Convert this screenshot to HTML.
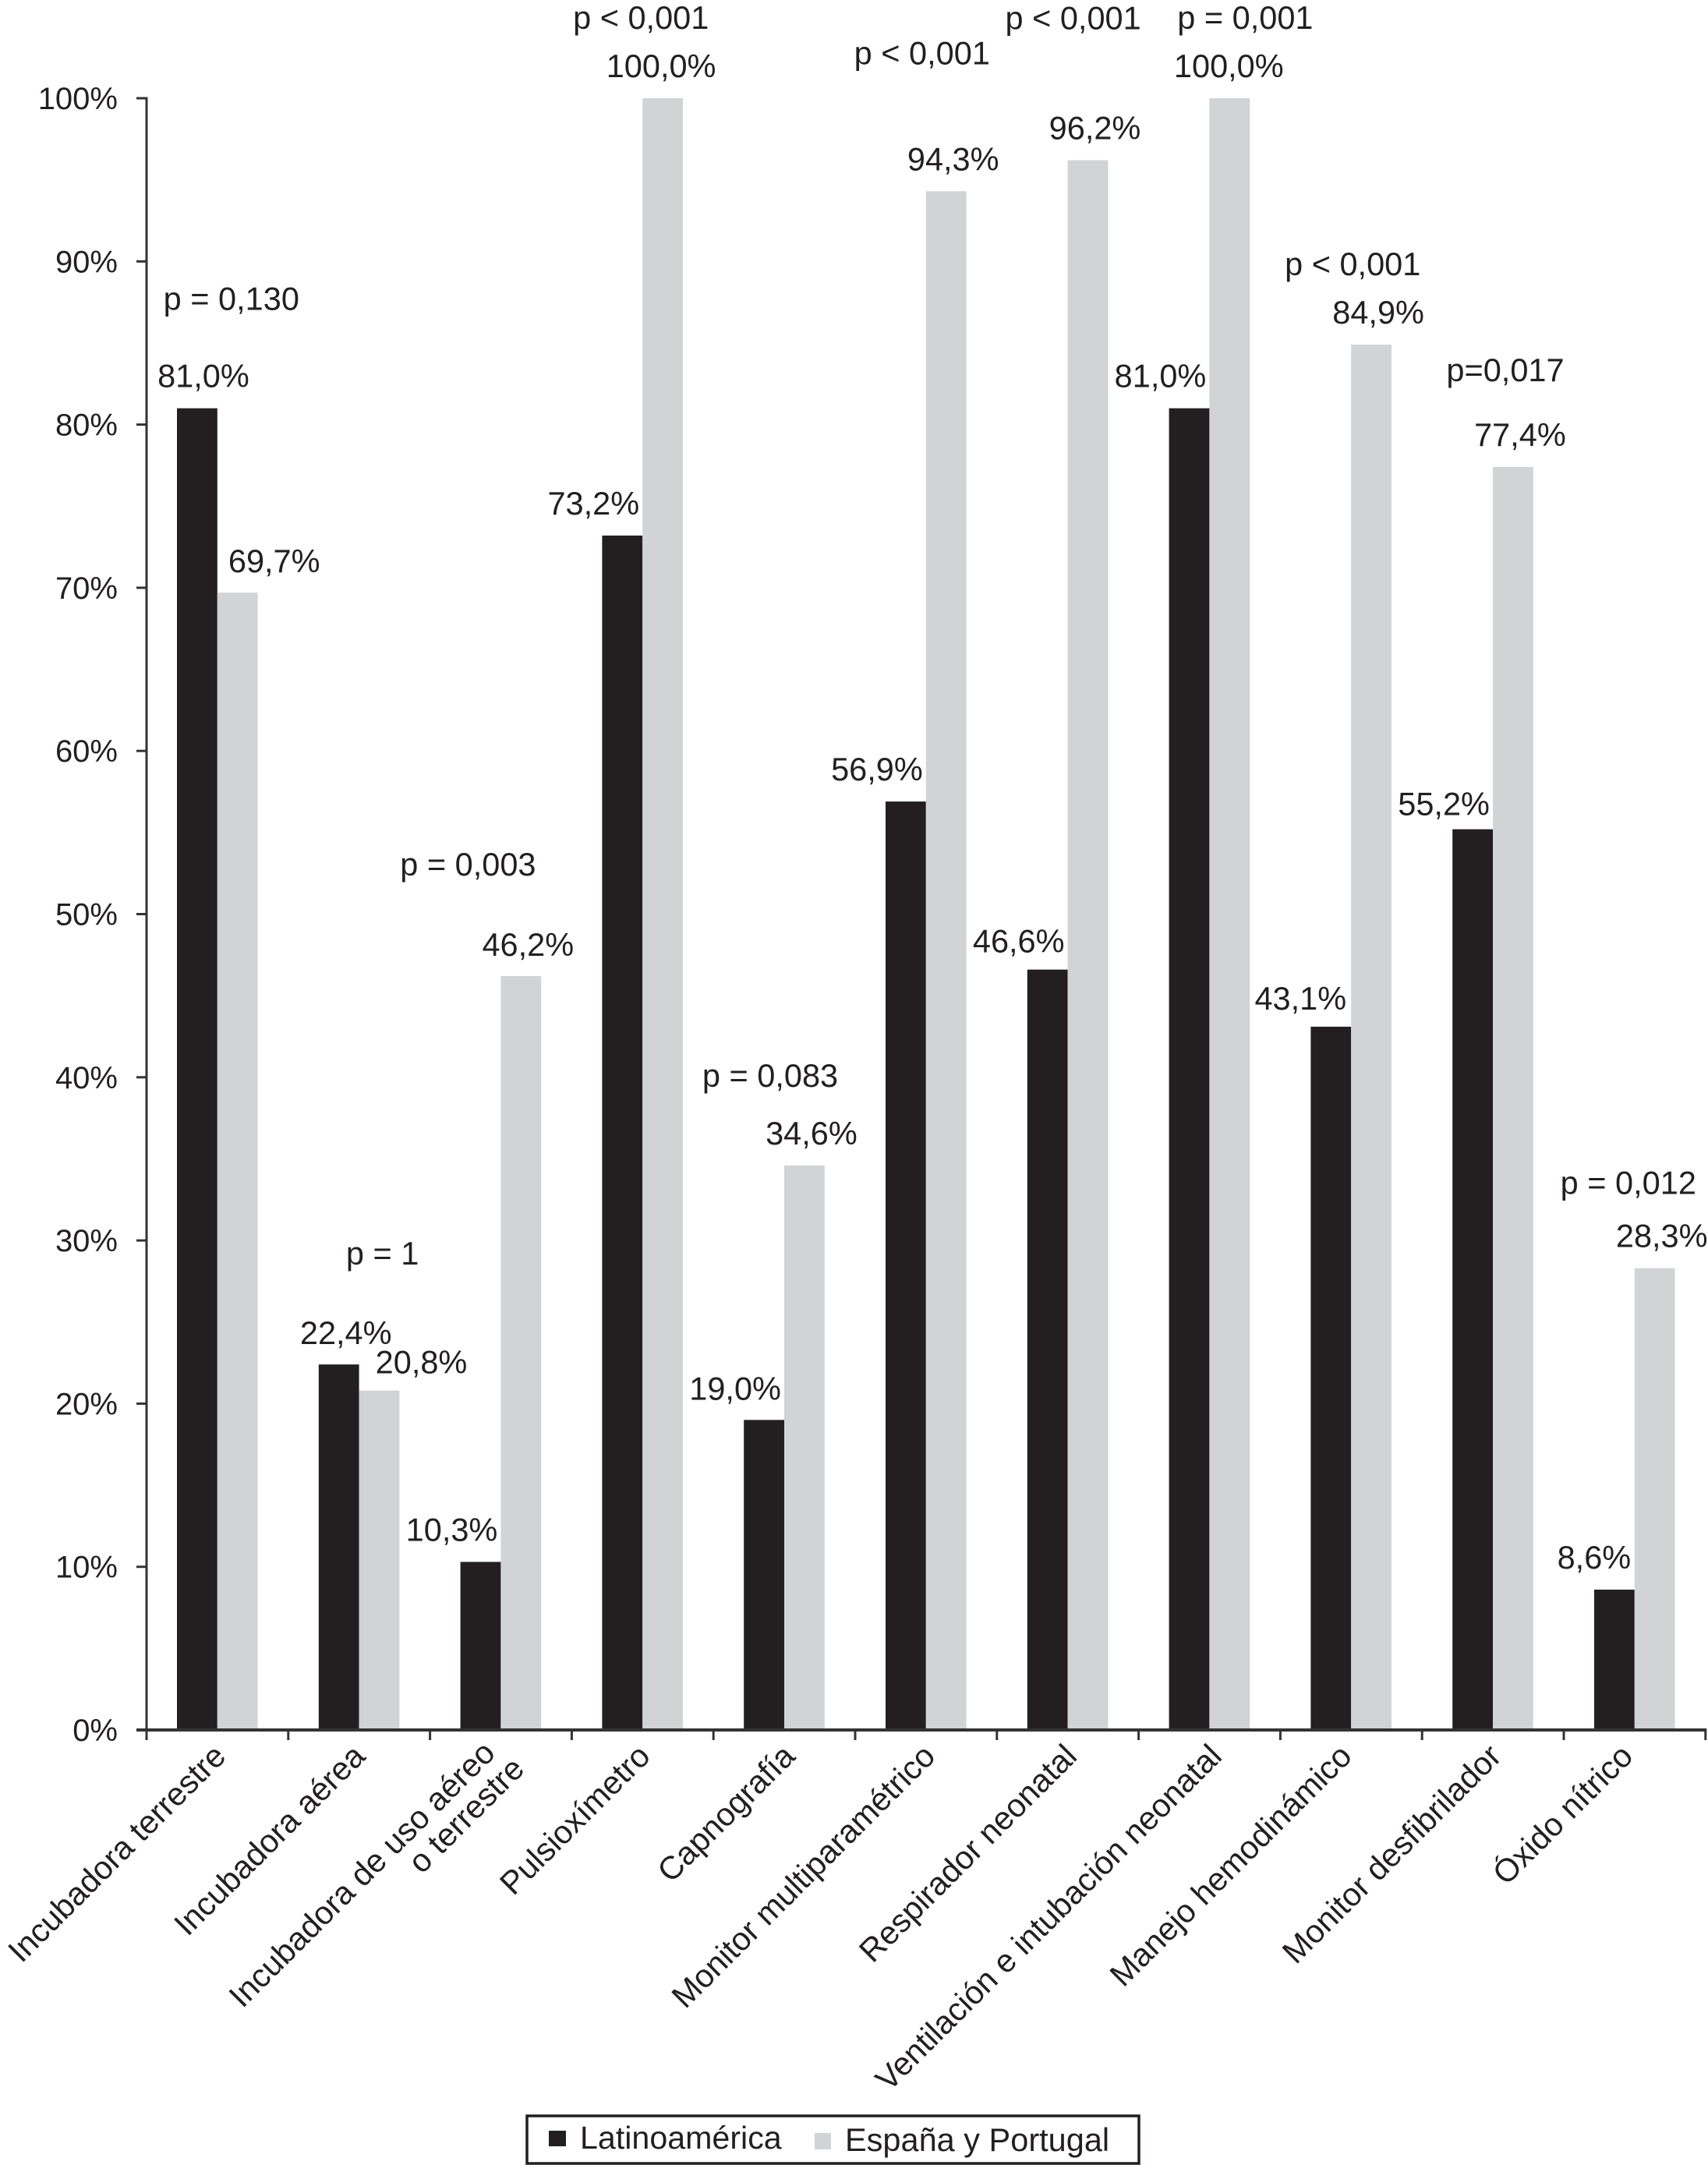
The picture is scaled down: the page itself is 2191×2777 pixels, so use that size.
<!DOCTYPE html>
<html lang="es">
<head>
<meta charset="utf-8">
<title>Equipamiento: Latinoamérica frente a España y Portugal</title>
<style>
html,body{margin:0;padding:0;background:#fff;}
svg{display:block;}
text{font-family:"Liberation Sans",sans-serif;fill:#231f20;}
</style>
</head>
<body>
<svg id="chart" xmlns="http://www.w3.org/2000/svg" width="2191" height="2777" viewBox="0 0 2191 2777"></svg>
<script>
const categories = ["Incubadora terrestre","Incubadora aérea","Incubadora de uso aéreo|o terrestre","Pulsioxímetro","Capnografía","Monitor multiparamétrico","Respirador neonatal","Ventilación e intubación neonatal","Manejo hemodinámico","Monitor desfibrilador","Óxido nítrico"];
const latinoamerica = [81.0,22.4,10.3,73.2,19.0,56.9,46.6,81.0,43.1,55.2,8.6];
const espanaPortugal = [69.7,20.8,46.2,100.0,34.6,94.3,96.2,100.0,84.9,77.4,28.3];
const pValues = ["p = 0,130","p = 1","p = 0,003","p < 0,001","p = 0,083","p < 0,001","p < 0,001","p = 0,001","p < 0,001","p=0,017","p = 0,012"];
const yTicks = [0,10,20,30,40,50,60,70,80,90,100];

// layout nudges (not data)
const blackLabelShift = [8,9,-37,-37,-37,-37,-37,-37,-39,-37,-26];
const blackLabelLift = [27,26,27,27,26,27,22,27,22,18,27];
const grayLabelShift = [47,54,9,-2,9,9,9,-1,9,9,9];
const grayLabelLift = [26,22,26,27,27,27,27,27,27,27,27];
const pLabelShift = [18,30,-42,-2,-18,-5,7,46,2,16,-8];
const pLabelLift = [126,128,129,89,101,163,168,89,89,110,95];
const xLabelShift = [13,10,16,12,16,14,14,18,3,13,0];

const svg = document.getElementById('chart');
const NS = 'http://www.w3.org/2000/svg';
const x0 = 188, step = 181.8, y0 = 2219, y100 = 126, barW = 51.8, barPad = 39;
const FS = 41.5;
function yScale(v){ return y0 - (y0 - y100) * v / 100; }
function xStart(i){ return x0 + step * i; }
function fmt(v){ return v.toFixed(1).replace('.', ',') + '%'; }
function make(tag, attrs){
  const e = document.createElementNS(NS, tag);
  for (const k in attrs) e.setAttribute(k, attrs[k]);
  svg.appendChild(e);
  return e;
}

// bars and their labels
categories.forEach(function(cat, i){
  const bx = xStart(i) + barPad;
  const gx = bx + barW;
  const by = yScale(latinoamerica[i]);
  const gy = yScale(espanaPortugal[i]);

  const b = make('rect', {x:bx, y:by, width:barW, height:y0 - by, fill:'#231f20'});
  
  

  const g = make('rect', {x:gx, y:gy, width:barW, height:y0 - gy, fill:'#d1d3d4'});
  
  

  const bl = make('text', {x:bx + barW/2 + blackLabelShift[i], y:by - blackLabelLift[i], 'text-anchor':'middle', 'font-size':FS});
  bl.textContent = fmt(latinoamerica[i]);
  
  

  const gl = make('text', {x:gx + barW/2 + grayLabelShift[i], y:gy - grayLabelLift[i], 'text-anchor':'middle', 'font-size':FS});
  gl.textContent = fmt(espanaPortugal[i]);
  
  

  const top = Math.min(by, gy);
  const pl = make('text', {x:gx + pLabelShift[i], y:top - pLabelLift[i], 'text-anchor':'middle', 'font-size':FS});
  pl.textContent = pValues[i];
  
  

  // category label, rotated 45deg
  const lines = cat.split('|');
  const ax = xStart(i) + step/2 + xLabelShift[i];
  const ay = y0 + 36;
  lines.forEach(function(line, j){
    const alongNudge = lines.length > 1 && j === 0 ? -12 : 0;
    const offset = lines.length > 1 ? (j === 0 ? -18 : 23) : 0;
    const t = make('text', {
      'text-anchor':'end',
      'font-size':FS,
      transform:'translate(' + ax + ' ' + ay + ') rotate(-45) translate(' + alongNudge + ' ' + offset + ')'
    });
    t.textContent = line;
    
    
  });

  const tk = make('line', {x1:xStart(i), x2:xStart(i), y1:y0, y2:y0 + 13, stroke:'#333', 'stroke-width':3});
  
  
});

const lastTick = make('line', {x1:xStart(categories.length), x2:xStart(categories.length), y1:y0, y2:y0 + 13, stroke:'#333', 'stroke-width':3});



// y axis
yTicks.forEach(function(v){
  const y = yScale(v);
  const tk = make('line', {x1:175, x2:x0, y1:y, y2:y, stroke:'#333', 'stroke-width':3});
  
  
  const t = make('text', {x:151, y:y + 14, 'text-anchor':'end', 'font-size':40});
  t.textContent = v + '%';
  
  
});

const yAxis = make('line', {x1:x0, x2:x0, y1:y100 - 1.5, y2:y0 + 13, stroke:'#333', 'stroke-width':3});



const xAxis = make('line', {x1:175, x2:xStart(categories.length) + 1.5, y1:y0, y2:y0, stroke:'#333', 'stroke-width':4});



// legend
const box = make('rect', {x:676, y:2714, width:785, height:61, fill:'#fff', stroke:'#231f20', 'stroke-width':3.5});



const sw1 = make('rect', {x:704, y:2733, width:22, height:20, fill:'#231f20'});



const lt1 = make('text', {x:744, y:2756, 'font-size':41.2});
lt1.textContent = 'Latinoamérica';



const sw2 = make('rect', {x:1045, y:2736, width:21, height:21, fill:'#d1d3d4'});



const lt2 = make('text', {x:1084, y:2759, 'font-size':41.5});
lt2.textContent = 'España y Portugal';


</script>
</body>
</html>
